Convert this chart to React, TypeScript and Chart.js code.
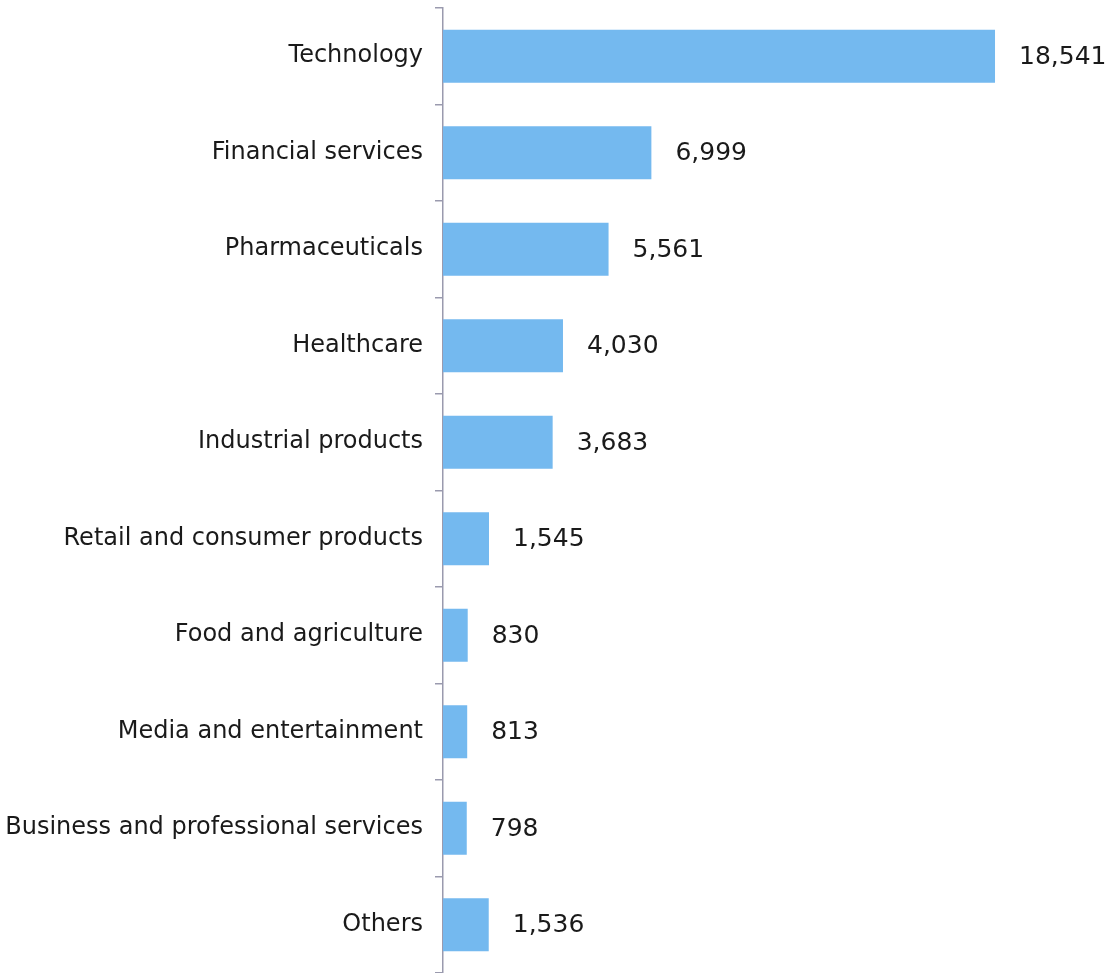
import React, { useEffect, useRef } from "react";
import { Chart, registerables } from "chart.js";

Chart.register(...registerables);

const categories = [
  "Technology",
  "Financial services",
  "Pharmaceuticals",
  "Healthcare",
  "Industrial products",
  "Retail and consumer products",
  "Food and agriculture",
  "Media and entertainment",
  "Business and professional services",
  "Others",
];
const values = [18541, 6999, 5561, 4030, 3683, 1545, 830, 813, 798, 1536];

const FONT = "'DejaVu Sans', sans-serif";

const valueLabels = {
  id: "valueLabels",
  afterDatasetsDraw(chart: any) {
    const ctx = chart.ctx;
    const meta = chart.getDatasetMeta(0);
    ctx.save();
    ctx.font = `25px ${FONT}`;
    ctx.fillStyle = "#1a1a1a";
    ctx.textAlign = "left";
    ctx.textBaseline = "middle";
    meta.data.forEach((bar: any, i: number) => {
      ctx.fillText(values[i].toLocaleString("en-US"), bar.x + 24, bar.y + 1);
    });
    ctx.restore();
  },
};

export default function App() {
  const ref = useRef<HTMLCanvasElement>(null);
  useEffect(() => {
    document.body.style.margin = "0";
    const chart = new Chart(ref.current!, {
      type: "bar",
      data: {
        labels: categories,
        datasets: [
          {
            data: values,
            backgroundColor: "#74B9EF",
            borderWidth: 0,
            categoryPercentage: 1,
            barPercentage: 0.55,
          },
        ],
      },
      plugins: [valueLabels],
      options: {
        indexAxis: "y",
        animation: false,
        responsive: false,
        maintainAspectRatio: false,
        layout: { padding: { top: 8, bottom: 0, left: 0, right: 16 } },
        plugins: { legend: { display: false }, tooltip: { enabled: false } },
        scales: {
          x: { display: false, min: 0, max: 22000 },
          y: {
            afterFit: (s: any) => {
              s.width = 443;
              s.paddingTop = 0;
              s.paddingBottom = 0;
            },
            border: { display: true, color: "#9a9aae", width: 1.5 },
            grid: {
              offset: true,
              drawOnChartArea: false,
              drawTicks: true,
              tickLength: 8,
              color: "#9a9aae",
              lineWidth: 1.5,
            },
            ticks: {
              color: "#1a1a1a",
              font: { family: FONT, size: 24 },
              padding: 12,
            },
          },
        },
      },
    });
    return () => chart.destroy();
  }, []);
  return (
    <div style={{ position: "absolute", left: 0, top: 0, width: 1114, height: 973 }}>
      <canvas ref={ref} width={1114} height={973} />
    </div>
  );
}
